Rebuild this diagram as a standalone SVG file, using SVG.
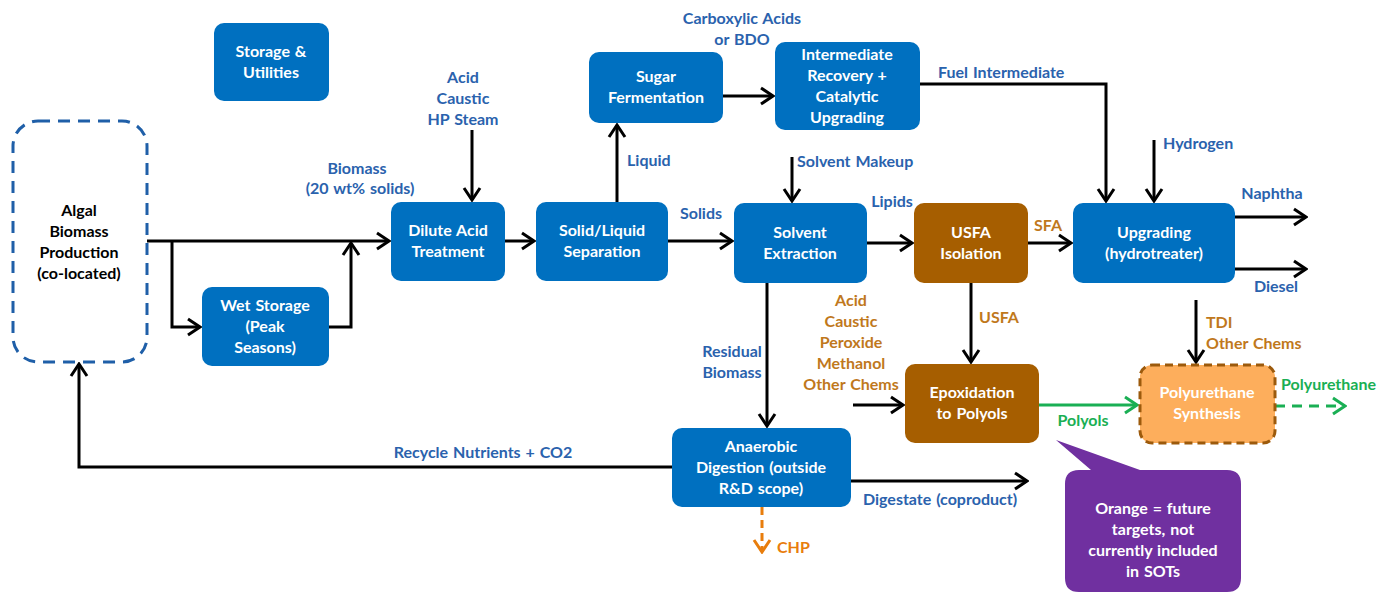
<svg xmlns="http://www.w3.org/2000/svg" width="1381" height="593" viewBox="0 0 1381 593">
<style>
text{font-family:Lato,"Liberation Sans",sans-serif;font-weight:bold;font-size:16px;text-anchor:middle;word-spacing:1px}
.bx{fill:#0070c0}
.br{fill:#a65e00}
.w{fill:#ffffff}
.bl{fill:#2a62ad}
.or{fill:#c0781c}
.gr{fill:#1aaf54}
.k{fill:#000000}
.c{fill:none;stroke:#000;stroke-width:3}
.s{text-anchor:start}
</style>
<defs>
<marker id="ak" viewBox="0 0 16 20" markerWidth="16" markerHeight="20" markerUnits="userSpaceOnUse" refX="14" refY="10" orient="auto"><path d="M2,2 L14,10 L2,18" fill="none" stroke="#000" stroke-width="3"/></marker>
<marker id="ag" viewBox="0 0 16 20" markerWidth="16" markerHeight="20" markerUnits="userSpaceOnUse" refX="14" refY="10" orient="auto"><path d="M2,2 L14,10 L2,18" fill="none" stroke="#1aaf54" stroke-width="3"/></marker>
<marker id="ao" viewBox="0 0 16 20" markerWidth="16" markerHeight="20" markerUnits="userSpaceOnUse" refX="14" refY="10" orient="auto"><path d="M2,2 L14,10 L2,18" fill="none" stroke="#e87d0c" stroke-width="3"/></marker>
</defs>
<rect width="1381" height="593" fill="#fff"/>

<g id="connectors">
<path class="c" d="M147,241 H389" marker-end="url(#ak)"/>
<path class="c" d="M172,241 V327 H200" marker-end="url(#ak)"/>
<path class="c" d="M329,327 H351 V243" marker-end="url(#ak)"/>
<path class="c" d="M472,130 V200" marker-end="url(#ak)"/>
<path class="c" d="M505,241 H534" marker-end="url(#ak)"/>
<path class="c" d="M617,202 V125" marker-end="url(#ak)"/>
<path class="c" d="M723,96 H773" marker-end="url(#ak)"/>
<path class="c" d="M668,241 H732" marker-end="url(#ak)"/>
<path class="c" d="M792,157 V201" marker-end="url(#ak)"/>
<path class="c" d="M867,243 H912" marker-end="url(#ak)"/>
<path class="c" d="M1028,243 H1071" marker-end="url(#ak)"/>
<path class="c" d="M920,84 H1106 V201" marker-end="url(#ak)"/>
<path class="c" d="M1154,140 V201" marker-end="url(#ak)"/>
<path class="c" d="M1235,217 H1306" marker-end="url(#ak)"/>
<path class="c" d="M1235,269 H1306" marker-end="url(#ak)"/>
<path class="c" d="M767,283 V426" marker-end="url(#ak)"/>
<path class="c" d="M971,283 V362" marker-end="url(#ak)"/>
<path class="c" d="M853,405 H903" marker-end="url(#ak)"/>
<path class="c" d="M1196,300 V362" marker-end="url(#ak)"/>
<path class="c" d="M672,467 H79 V364" marker-end="url(#ak)"/>
<path class="c" d="M851,481 H1027" marker-end="url(#ak)"/>
<path d="M1039,405 H1137" fill="none" stroke="#1aaf54" stroke-width="3" marker-end="url(#ag)"/>
<path d="M1275,406 H1345" fill="none" stroke="#1aaf54" stroke-width="3" stroke-dasharray="10 7" marker-end="url(#ag)"/>
<path d="M762,507 V552" fill="none" stroke="#e87d0c" stroke-width="3" stroke-dasharray="8 5" marker-end="url(#ao)"/>
</g>

<g id="labels">
<text class="bl" x="357" y="174">Biomass</text>
<text class="bl" x="360" y="194">(20 wt% solids)</text>
<text class="bl" x="463" y="83">Acid</text>
<text class="bl" x="463" y="104">Caustic</text>
<text class="bl" x="463" y="125">HP Steam</text>
<text class="bl" x="742" y="24">Carboxylic Acids</text>
<text class="bl" x="742" y="45">or BDO</text>
<text class="bl s" x="627" y="166">Liquid</text>
<text class="bl" x="701" y="219">Solids</text>
<text class="bl s" x="797" y="167">Solvent Makeup</text>
<text class="bl" x="892" y="207">Lipids</text>
<text class="or" x="1048" y="231">SFA</text>
<text class="bl s" x="938" y="78">Fuel Intermediate</text>
<text class="bl s" x="1163" y="149">Hydrogen</text>
<text class="bl" x="1272" y="199">Naphtha</text>
<text class="bl" x="1276" y="292">Diesel</text>
<text class="bl" x="732" y="357">Residual</text>
<text class="bl" x="732" y="378">Biomass</text>
<text class="or s" x="979" y="323">USFA</text>
<text class="or" x="851" y="306">Acid</text>
<text class="or" x="851" y="327">Caustic</text>
<text class="or" x="851" y="348">Peroxide</text>
<text class="or" x="851" y="369">Methanol</text>
<text class="or" x="851" y="390">Other Chems</text>
<text class="gr" x="1083" y="426">Polyols</text>
<text class="or s" x="1206" y="328">TDI</text>
<text class="or s" x="1206" y="349">Other Chems</text>
<text class="gr s" x="1281" y="390">Polyurethane</text>
<text class="bl" x="483" y="458">Recycle Nutrients + CO2</text>
<text class="bl" x="940" y="505">Digestate (coproduct)</text>
<text x="777" y="553" class="s" fill="#e87d0c">CHP</text>
</g>

<g id="storage">
<rect class="bx" x="214" y="23" width="115" height="78" rx="10"/>
<text class="w" x="271" y="57">Storage &amp;</text>
<text class="w" x="271" y="78">Utilities</text>
</g>

<g id="algal">
<rect x="13" y="121" width="134" height="241" rx="25" fill="none" stroke="#1f5fa8" stroke-width="3" stroke-dasharray="12 8"/>
<text class="k" x="79" y="216">Algal</text>
<text class="k" x="79" y="237">Biomass</text>
<text class="k" x="79" y="258">Production</text>
<text class="k" x="79" y="279">(co-located)</text>
</g>

<g id="wetstorage">
<rect class="bx" x="202" y="287" width="127" height="79" rx="10"/>
<text class="w" x="265" y="311">Wet Storage</text>
<text class="w" x="265" y="332">(Peak</text>
<text class="w" x="265" y="353">Seasons)</text>
</g>

<g id="dilute">
<rect class="bx" x="391" y="202" width="114" height="79" rx="10"/>
<text class="w" x="448" y="236">Dilute Acid</text>
<text class="w" x="448" y="257">Treatment</text>
</g>

<g id="solidliquid">
<rect class="bx" x="536" y="202" width="132" height="79" rx="10"/>
<text class="w" x="602" y="236">Solid/Liquid</text>
<text class="w" x="602" y="257">Separation</text>
</g>

<g id="sugar">
<rect class="bx" x="589" y="52" width="134" height="71" rx="10"/>
<text class="w" x="656" y="82">Sugar</text>
<text class="w" x="656" y="103">Fermentation</text>
</g>

<g id="intermediate">
<rect class="bx" x="775" y="42" width="145" height="88" rx="10"/>
<text class="w" x="847" y="60">Intermediate</text>
<text class="w" x="847" y="81">Recovery +</text>
<text class="w" x="847" y="102">Catalytic</text>
<text class="w" x="847" y="123">Upgrading</text>
</g>

<g id="solvent">
<rect class="bx" x="734" y="203" width="133" height="80" rx="10"/>
<text class="w" x="800" y="238">Solvent</text>
<text class="w" x="800" y="259">Extraction</text>
</g>

<g id="usfa">
<rect class="br" x="914" y="203" width="114" height="80" rx="10"/>
<text class="w" x="971" y="238">USFA</text>
<text class="w" x="971" y="259">Isolation</text>
</g>

<g id="upgrading">
<rect class="bx" x="1073" y="203" width="162" height="80" rx="10"/>
<text class="w" x="1154" y="238">Upgrading</text>
<text class="w" x="1154" y="259">(hydrotreater)</text>
</g>

<g id="epoxidation">
<rect class="br" x="905" y="364" width="134" height="79" rx="10"/>
<text class="w" x="972" y="398">Epoxidation</text>
<text class="w" x="972" y="419">to Polyols</text>
</g>

<g id="polyurethane">
<rect x="1140" y="365" width="135" height="78" rx="12" fill="#fdae5c" stroke="#9c5a0c" stroke-width="3" stroke-dasharray="8 5"/>
<text class="w" x="1207" y="398">Polyurethane</text>
<text class="w" x="1207" y="419">Synthesis</text>
</g>

<g id="anaerobic">
<rect class="bx" x="672" y="428" width="179" height="79" rx="10"/>
<text class="w" x="761" y="452">Anaerobic</text>
<text class="w" x="761" y="473">Digestion (outside</text>
<text class="w" x="761" y="494">R&amp;D scope)</text>
</g>

<g id="callout">
<path d="M1079,470 H1091 L1056,440 L1140,470 H1227 Q1241,470 1241,484 V578 Q1241,592 1227,592 H1079 Q1065,592 1065,578 V484 Q1065,470 1079,470 Z" fill="#7030a0"/>
<text class="w" x="1153" y="514">Orange = future</text>
<text class="w" x="1153" y="535">targets, not</text>
<text class="w" x="1153" y="556">currently included</text>
<text class="w" x="1153" y="577">in SOTs</text>
</g>
</svg>
